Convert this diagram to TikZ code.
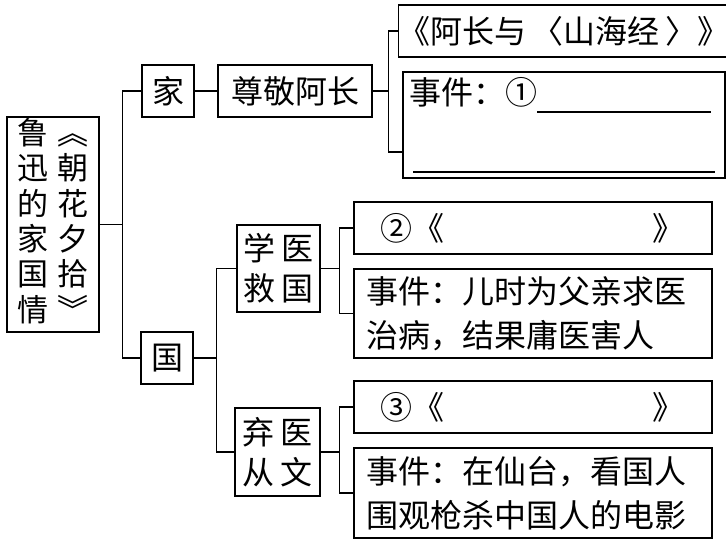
\documentclass[tikz,border=0pt]{standalone}
\usepackage{fontspec}
\setmainfont{Noto Sans CJK SC}
\tikzset{%
	box/.style={
		draw,
		line width=1.2pt,
		inner sep=0pt,
		align=center,
		font=\fontsize{32}{40}\selectfont
	},
	book/.style={
		box,
		align=left,
		inner xsep=6pt
	},
	event/.style={
		box,
		align=left,
		inner xsep=12pt,
		font=\fontsize{32}{44}\selectfont
	},
}

\begin{document}
\begin{tikzpicture}[x=1pt, y=-1pt, line width=1.2pt]
	\useasboundingbox (0,0) rectangle (726,542);
	
	% Nodes of the chart
	\node[box, minimum width=92pt, minimum height=215pt, font=\fontsize{31}{30.5}\selectfont] (root) at (53,224.5)
		{\begin{tabular}{@{}c@{\hspace{9pt}}c@{}}
			鲁&︽\\ 迅&朝\\ 的&花\\ 家&夕\\ 国&拾\\ 情&︾
		\end{tabular}};
	
	\node[box, minimum width=52pt, minimum height=52pt] (jia) at (168,91) {家};
	\node[box, minimum width=154pt, minimum height=52pt] (zunjing) at (295,91) {尊敬阿长};
	\node[box, minimum width=322pt, minimum height=52pt] (book1) at (564,31) {《阿长与\,〈山海经\,〉》};
	\node[event, inner xsep=6pt, text width=310pt, minimum height=106pt] (event1) at (564,125)
		{事件：①\rule[-8pt]{174pt}{1.2pt}\\[24pt]\hspace*{4pt}\rule{302pt}{1.2pt}};
	
	\node[box, minimum width=52pt, minimum height=52pt] (guo) at (167,358) {国};
	\node[box, minimum width=83pt, minimum height=87pt] (xueyi) at (278.5,268.5) {学\,医\\救\,国};
	\node[box, minimum width=85pt, minimum height=88pt] (qiyi) at (277.5,452) {弃\,医\\从\,文};
	
	\node[book, text width=346pt, minimum height=52pt] (book2) at (533,228) {\hspace*{20pt}②《\hspace{6.5em}》};
	\node[event, text width=334pt, minimum height=89pt] (event2) at (533,313.5)
		{事件：儿时为父亲求医\\治病，结果庸医害人};
	\node[book, text width=346pt, minimum height=52pt] (book3) at (533,407) {\hspace*{20pt}③《\hspace{6.5em}》};
	\node[event, text width=334pt, minimum height=90pt] (event3) at (533,493)
		{事件：在仙台，看国人\\围观枪杀中国人的电影};
	
	% Connectors
	\draw (root.east) -- ++(23,0) coordinate (fork0) |- (jia.west);
	\draw (fork0) |- (guo.west);
	\draw (jia) -- (zunjing);
	\draw (zunjing.east) -- ++(16,0) coordinate (fork1) |- (book1.west);
	\draw (fork1) |- ([yshift=-27pt]event1.west);
	\draw (guo.east) -- ++(23,0) coordinate (fork2) |- (xueyi.west);
	\draw (fork2) |- (qiyi.west);
	\draw (xueyi.east) -- ++(19,0) coordinate (fork3) |- (book2.west);
	\draw (fork3) |- (event2.west);
	\draw (qiyi.east) -- ++(19,0) coordinate (fork4) |- (book3.west);
	\draw (fork4) |- (event3.west);
	
\end{tikzpicture}
\end{document}
